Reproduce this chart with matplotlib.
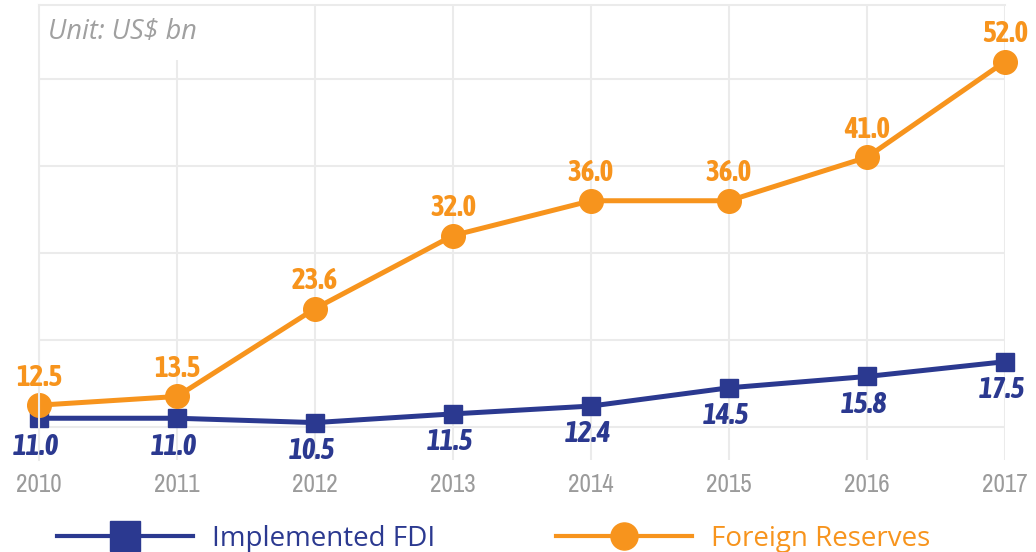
import matplotlib
matplotlib.use("Agg")
import matplotlib.pyplot as plt
from matplotlib import font_manager
from matplotlib.font_manager import FontProperties

# Data (US$ bn)
years = [2010, 2011, 2012, 2013, 2014, 2015, 2016, 2017]
fdi = [11.0, 11.0, 10.5, 11.5, 12.4, 14.5, 15.8, 17.5]
reserves = [12.5, 13.5, 23.6, 32.0, 36.0, 36.0, 41.0, 52.0]
year_labels = [str(y) for y in years]
series_names = ["Implemented FDI", "Foreign Reserves"]

NAVY = "#2B3990"
ORANGE = "#F7941D"
GRAY = "#9B9B9B"
GRID = "#EBEBEB"

WEIGHTS = {"ultralight": 100, "light": 300, "normal": 400, "regular": 400,
           "book": 400, "medium": 500, "roman": 400, "semibold": 600,
           "demibold": 600, "demi": 600, "bold": 700, "heavy": 800,
           "extra bold": 800, "black": 900}


def _w(f):
    w = f.weight
    return w if isinstance(w, int) else WEIGHTS.get(str(w).lower(), 400)


def _narrow(f):
    return ("Narrow" in f.name or "Condensed" in f.name
            or f.stretch in ("condensed", "semi-condensed", 375))


def narrow_font(weight, italic, size):
    """Pick a condensed face of the requested weight/style, if installed."""
    cands = [f for f in font_manager.fontManager.ttflist if _narrow(f)]
    if not cands:
        return FontProperties(family="Roboto", weight=weight,
                              style="italic" if italic else "normal", size=size)

    def score(f):
        st = 0 if (f.style in ("italic", "oblique")) == italic else 1000
        return (st + abs(_w(f) - weight), f.name, f.fname)

    best = sorted(cands, key=score)[0]
    return FontProperties(fname=best.fname, size=size)


installed = {f.name for f in font_manager.fontManager.ttflist}
body = "Open Sans" if "Open Sans" in installed else "DejaVu Sans"

fp_year = narrow_font(400, False, 18)
fp_res = narrow_font(700, False, 21)
fp_fdi = narrow_font(700, True, 21)

fig = plt.figure(figsize=(10.36, 5.52), dpi=100)
W, H = 1036, 552
ax = fig.add_axes([39 / W, 1 - 460 / H, (1005 - 39) / W, (460 - 5) / H])

ax.set_xlim(2010, 2017)
ax.set_ylim(6.2, 58.5)

# grid
for y in [10, 20, 30, 40, 50]:
    ax.axhline(y, color=GRID, lw=1.5, zorder=0)
for x in years:
    ax.axvline(x, color=GRID, lw=1.5, zorder=0)

for s in ["right", "bottom"]:
    ax.spines[s].set_visible(False)
for s in ["top", "left"]:
    ax.spines[s].set_color(GRID)
    ax.spines[s].set_linewidth(1.5)
    ax.spines[s].set_zorder(6)

ax.set_yticks([])
ax.set_xticks(years)
ax.set_xticklabels(year_labels, fontproperties=fp_year, color=GRAY)
ax.tick_params(axis="x", length=0, pad=9)

ax.plot(years, fdi, color=NAVY, lw=3.6, marker="s", ms=13, mec=NAVY, mfc=NAVY,
        zorder=3, clip_on=False, label=series_names[0])
ax.plot(years, reserves, color=ORANGE, lw=3.6, marker="o", ms=17, mec=ORANGE,
        mfc=ORANGE, zorder=4, clip_on=False, label=series_names[1])

for x, v in zip(years, reserves):
    ax.annotate(f"{v:.1f}", (x, v), xytext=(0, 20), textcoords="offset points",
                ha="center", va="center", color=ORANGE, fontproperties=fp_res,
                zorder=7, annotation_clip=False)
for x, v in zip(years, fdi):
    ax.annotate(f"{v:.1f}", (x, v), xytext=(-2, -20), textcoords="offset points",
                ha="center", va="center", color=NAVY, fontproperties=fp_fdi,
                zorder=7, annotation_clip=False)

ax.text(48 / W, 1 - 32 / H, "Unit: US$ bn", transform=fig.transFigure,
        ha="left", va="center", fontsize=19.5, fontstyle="italic", color="#A0A0A0",
        fontfamily=body, zorder=5,
        bbox=dict(facecolor="white", edgecolor="none", pad=0,
                  boxstyle="square,pad=0.5"))

leg = fig.legend(loc="center left", bbox_to_anchor=(57 / W, 1 - 539 / H),
                 ncol=2, frameon=False, borderpad=0, borderaxespad=0,
                 handlelength=4.9, handletextpad=0.68, columnspacing=4.35,
                 prop={"family": body, "size": 20})
for txt, c in zip(leg.get_texts(), [NAVY, ORANGE]):
    txt.set_color(c)
for h, ms in zip(leg.legend_handles, [21, 19.5]):
    h.set_markersize(ms)
    h.set_linewidth(3)

fig.savefig("out.png", dpi=100)
